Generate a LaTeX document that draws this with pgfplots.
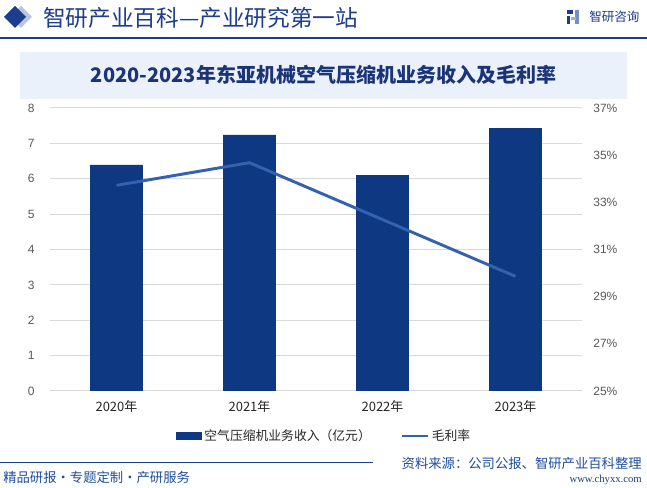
\documentclass[border=0pt]{standalone}
\usepackage{pgfplots}
\pgfplotsset{compat=1.18}
\usepackage{fontspec}
\setmainfont{Noto Sans CJK SC}
\newfontfamily\arial{Liberation Sans}
\newfontfamily\tnr{Liberation Serif}
\definecolor{barc}{HTML}{0E3881}
\definecolor{linec}{HTML}{3461B0}
\definecolor{navy}{HTML}{1C3D8C}
\definecolor{footc}{HTML}{1F4E9E}
\definecolor{titlebg}{HTML}{EAF1FB}
\definecolor{titlec}{HTML}{1A3477}
\definecolor{gridc}{HTML}{D9D9D9}
\definecolor{tickc}{HTML}{595959}
\begin{document}
\begin{tikzpicture}[x=0.75pt,y=0.75pt]
\useasboundingbox (0,0) rectangle (647,488);
\fill[white] (0,0) rectangle (647,488);
% header
\fill[navy!30] (21,482) -- (32,471) -- (21,460) -- (10,471) -- cycle;
\fill[navy] (15,482) -- (26,471) -- (15,460) -- (4,471) -- cycle;
\node[anchor=west, text=navy, inner sep=0pt, font=\fontsize{17}{17}\selectfont] at (43,470) {智研产业百科—产业研究第一站};
\draw[navy, line width=1.2pt] (0,450) -- (647,450);
% logo
\fill[navy] (567,474) rectangle (573,478);
\fill[navy] (567,464) rectangle (570,472);
\fill[linec!70] (575,464) rectangle (579,478);
\fill[linec!50] (571,468) rectangle (576,471);
\node[anchor=west, text=navy, inner sep=0pt, font=\fontsize{9.4}{10}\selectfont] at (589,471) {智研咨询};
% title box
\fill[titlebg] (20,389) rectangle (627,436);
\node[text=titlec, inner sep=0pt, font=\fontsize{15}{15}\selectfont\bfseries] at (323.5,413) {2020-2023年东亚机械空气压缩机业务收入及毛利率};
% footer
\draw[navy, line width=1pt] (0,25.7) -- (373,25.7);
\node[anchor=west, text=footc, inner sep=0pt, font=\fontsize{10}{10}\selectfont] at (3,11) {精品研报・专题定制・产研服务};
\node[anchor=east, text=footc, inner sep=0pt, font=\fontsize{10}{10}\selectfont] at (642,25) {资料来源：公司公报、智研产业百科整理};
\node[anchor=east, text=navy, inner sep=0pt, font=\tnr\fontsize{8}{8}\selectfont] at (642,8) {www.chyxx.com};

\begin{axis}[
  at={(37.5pt,72.75pt)}, anchor=south west, scale only axis,
  width=399pt, height=212.25pt,
  xmin=-0.5, xmax=3.5, ymin=0, ymax=8,
  xtick={0,1,2,3}, xticklabels={2020年,2021年,2022年,2023年},
  ytick={0,1,...,8},
  ymajorgrids, grid style={gridc, line width=0.75pt},
  axis line style={draw=none},
  major tick length=0pt,
  /pgf/number format/assume math mode=true,
  yticklabel style={font=\arial\fontsize{9}{9}\selectfont, text=tickc, xshift=-8pt},
  xticklabel style={font=\fontsize{9.75}{10}\selectfont, text=black!85, yshift=-3.5pt},
  clip=false,
]
\addplot[ybar, bar width=39.5pt, fill=barc, draw=none] coordinates {(0,6.39) (1,7.24) (2,6.10) (3,7.43)};
\end{axis}

\begin{axis}[
  at={(37.5pt,72.75pt)}, anchor=south west, scale only axis,
  width=399pt, height=212.25pt,
  xmin=-0.5, xmax=3.5, ymin=25, ymax=37,
  hide x axis,
  axis y line*=right,
  axis line style={draw=none},
  major tick length=0pt,
  ytick={25,27,...,37},
  yticklabel={\pgfmathprintnumber{\tick}\%},
  /pgf/number format/assume math mode=true,
  yticklabel style={font=\arial\fontsize{9}{9}\selectfont, text=tickc, xshift=5pt},
  legend columns=2,
  legend cell align=left,
  legend style={at={(0.516,-0.159)}, anchor=center, draw=none, fill=none,
    font=\fontsize{9.6}{10}\selectfont, text=black!85,
    /tikz/every even column/.append style={column sep=20pt}},
  clip=false,
]
\addlegendimage{legend image code/.code={\fill[barc] (0pt,-2.6pt) rectangle (18.75pt,2.6pt);}}
\addlegendentry{空气压缩机业务收入（亿元）}
\addplot[linec, line width=2.2pt, no marks, legend image code/.code={\draw[linec, line width=2.2pt] (0pt,0pt) -- (19.5pt,0pt);}] coordinates {(0,33.72) (1,34.68) (2,32.27) (3,29.86)};
\addlegendentry{毛利率}
\end{axis}
\end{tikzpicture}
\end{document}
